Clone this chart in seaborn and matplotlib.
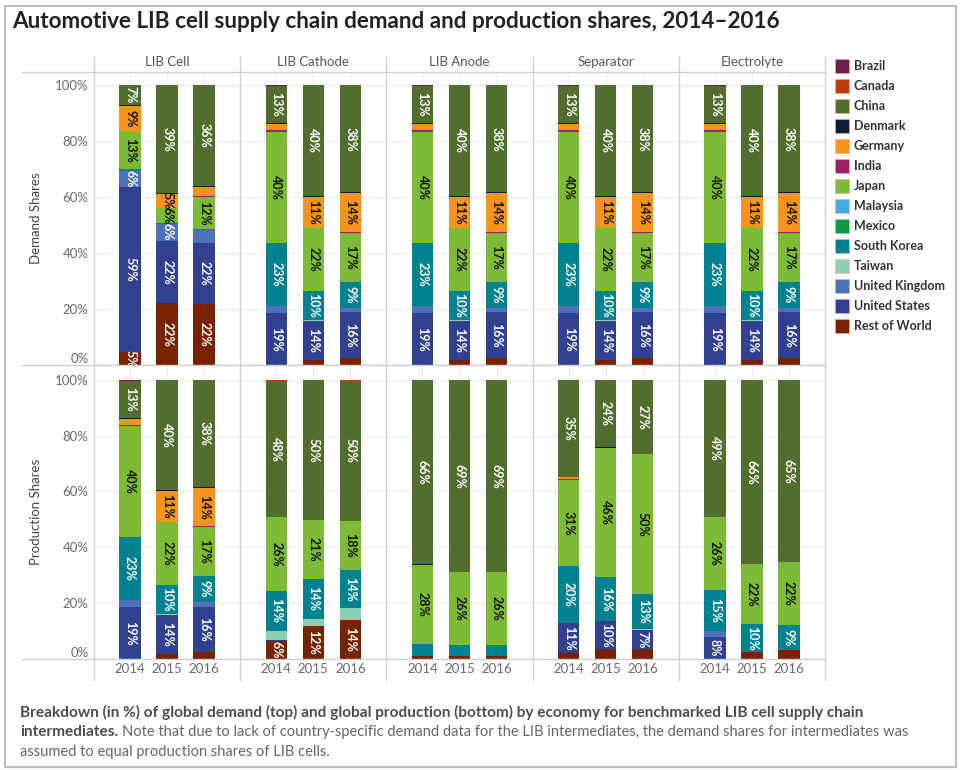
import numpy as np
import pandas as pd
import matplotlib
matplotlib.use("Agg")
import matplotlib.pyplot as plt
from matplotlib.lines import Line2D
from matplotlib.patches import Rectangle
import seaborn as sns

years = ["2014", "2015", "2016"]
components = ["LIB Cell", "LIB Cathode", "LIB Anode", "Separator", "Electrolyte"]
row_titles = ["Demand Shares", "Production Shares"]
countries = ["Brazil", "Canada", "China", "Denmark", "Germany", "India", "Japan",
             "Malaysia", "Mexico", "South Korea", "Taiwan", "United Kingdom",
             "United States", "Rest of World"]
country_colors = ["#6b2150", "#c23a10", "#526e2e", "#0d1f33", "#f7941d", "#9e1f63",
                  "#7dbb37", "#45aae0", "#11934a", "#00818f", "#8dd0b6", "#4e71b8",
                  "#31418f", "#772302"]
dark_text = ["Japan", "Germany"]

# shares in %, values for 2014 / 2015 / 2016
cell_demand = {
    "Rest of World": [4.8, 22.0, 21.6],
    "United States": [58.8, 22.4, 22.1],
    "United Kingdom": [5.6, 6.0, 4.5],
    "South Korea": [0.8, 0.3, 0.3],
    "Japan": [13.2, 5.5, 11.6],
    "India": [0.0, 0.0, 0.4],
    "Germany": [9.3, 4.8, 3.0],
    "Denmark": [0.3, 0.3, 0.3],
    "China": [7.0, 38.7, 36.2],
    "Brazil": [0.2, 0.0, 0.0],
}
cell_production = {
    "Rest of World": [0.0, 1.8, 2.4],
    "United States": [18.5, 14.0, 16.4],
    "United Kingdom": [2.7, 0.0, 1.7],
    "Taiwan": [0.0, 0.3, 0.0],
    "South Korea": [22.5, 10.4, 9.3],
    "Japan": [39.6, 22.4, 17.3],
    "India": [0.5, 0.0, 0.4],
    "Germany": [2.2, 11.2, 13.9],
    "Denmark": [0.3, 0.3, 0.2],
    "China": [13.3, 39.6, 38.2],
    "Brazil": [0.4, 0.0, 0.2],
}
cathode_production = {
    "Rest of World": [6.3, 11.7, 13.8],
    "United States": [0.5, 0.0, 0.0],
    "Taiwan": [3.3, 2.7, 4.3],
    "South Korea": [14.4, 14.4, 13.7],
    "Japan": [26.3, 21.1, 17.6],
    "Denmark": [0.0, 0.0, 0.2],
    "China": [48.4, 49.9, 50.0],
    "Canada": [0.8, 0.0, 0.4],
    "Brazil": [0.0, 0.2, 0.0],
}
anode_production = {
    "Rest of World": [1.2, 1.2, 1.2],
    "South Korea": [4.2, 3.9, 3.9],
    "Japan": [28.4, 26.0, 26.0],
    "Denmark": [0.2, 0.0, 0.0],
    "China": [65.8, 68.7, 68.7],
    "Brazil": [0.2, 0.2, 0.2],
}
separator_production = {
    "Rest of World": [2.0, 3.7, 3.7],
    "United States": [10.9, 9.8, 6.6],
    "Taiwan": [0.0, 0.0, 0.3],
    "South Korea": [20.3, 15.8, 12.6],
    "Japan": [31.0, 46.3, 50.1],
    "India": [0.4, 0.0, 0.0],
    "Germany": [0.5, 0.0, 0.0],
    "Denmark": [0.2, 0.3, 0.0],
    "China": [34.6, 23.9, 26.6],
    "Brazil": [0.1, 0.2, 0.1],
}
electrolyte_production = {
    "Rest of World": [0.0, 2.6, 3.1],
    "United States": [7.8, 0.0, 0.0],
    "United Kingdom": [2.4, 0.0, 0.0],
    "South Korea": [14.6, 9.8, 9.2],
    "Japan": [25.9, 21.6, 22.3],
    "Denmark": [0.2, 0.2, 0.2],
    "China": [48.9, 65.6, 65.0],
    "Brazil": [0.2, 0.2, 0.2],
}

# intermediate demand was assumed equal to LIB cell production
demand_row = [cell_demand, cell_production, cell_production, cell_production, cell_production]
production_row = [cell_production, cathode_production, anode_production,
                  separator_production, electrolyte_production]

W, H = 960, 770
palette = dict(zip(countries, country_colors))
grey_line = "#d0d0d0"


def fx(x):
    return x / W


def fy(y):
    return 1 - y / H


def draw_stack(ax, shares):
    stack = [c for c in countries[::-1] if c in shares]
    base = np.zeros(len(years))
    tops = {}
    for c in stack:
        base = base + np.array(shares[c])
        tops[c] = base.copy()
    # cumulative bars drawn from the top segment downwards
    for c in stack[::-1]:
        df = pd.DataFrame({"year": years, "top": tops[c]})
        sns.barplot(data=df, x="year", y="top", order=years, color=palette[c],
                    saturation=1, width=0.58, errorbar=None, linewidth=0,
                    ax=ax, zorder=2)
    for c in stack:
        for i, v in enumerate(shares[c]):
            if v >= 4.7:
                ax.text(i, tops[c][i] - v / 2, f"{int(v + 0.5)}%", rotation=270,
                        ha="center", va="center", fontsize=9, fontweight="bold",
                        color="#111111" if c in dark_text else "white", zorder=3)


sns.set_theme(style="white")
plt.rcParams["font.family"] = ["Lato", "DejaVu Sans"]

fig = plt.figure(figsize=(W / 100, H / 100), dpi=100)

col_edges = [94, 240.2, 386.4, 532.6, 678.8, 825]
row_edges = [(72, 365, 104.6), (365, 659, 105.3)]

for r, row_data in enumerate([demand_row, production_row]):
    y_top, y_bot, y_max = row_edges[r]
    for j, shares in enumerate(row_data):
        x0, x1 = col_edges[j], col_edges[j + 1]
        ax = fig.add_axes([fx(x0), fy(y_bot), (x1 - x0) / W, (y_bot - y_top) / H])
        draw_stack(ax, shares)
        ax.set_xlim(-0.975, 2.975)
        ax.set_ylim(0, y_max)
        ax.set_yticks([0, 20, 40, 60, 80, 100])
        ax.set_axisbelow(True)
        ax.grid(True, color="#efefef", linewidth=0.9)
        for s in ax.spines.values():
            s.set_visible(False)
        ax.tick_params(length=0)
        ax.set_xlabel("")
        ax.set_ylabel("")
        if j == 0:
            ax.set_yticklabels([f"{v}%" for v in range(0, 101, 20)],
                               fontsize=9.5, color="#6a6a6a")
            ax.get_yticklabels()[0].set_va("bottom")
            ax.tick_params(axis="y", pad=4)
        else:
            ax.set_yticklabels([])
        if r == 1:
            ax.set_xticks(range(len(years)))
            ax.set_xticklabels(years, fontsize=9.5, color="#6a6a6a")
            ax.tick_params(axis="x", pad=3)
        else:
            ax.set_xticklabels([])
        if r == 0:
            fig.text(fx((x0 + x1) / 2), fy(62), components[j], ha="center",
                     va="center", fontsize=9.5, color="#555555")

    fig.text(fx(36), fy((y_top + y_bot) / 2), row_titles[r], rotation=90,
             ha="center", va="center", fontsize=9.5, color="#444444")

# pane separators
for x in col_edges:
    fig.add_artist(Line2D([fx(x), fx(x)], [fy(57), fy(680)], color=grey_line, lw=1))
for y in [72, 365, 659]:
    fig.add_artist(Line2D([fx(22), fx(825)], [fy(y), fy(y)], color=grey_line, lw=1))

# legend
for k, c in enumerate(countries):
    yc = 66 + 20 * k
    fig.add_artist(Rectangle((fx(835), fy(yc + 7)), 14 / W, 14 / H,
                             facecolor=palette[c], edgecolor="#e6b0a0",
                             lw=0.4, transform=fig.transFigure))
    fig.text(fx(854), fy(yc), c, ha="left", va="center", fontsize=9,
             fontweight="bold", color="#333333")

# title and caption
fig.text(fx(12), fy(21), "Automotive LIB cell supply chain demand and production shares, 2014\u20132016",
         ha="left", va="center", fontsize=16.2, fontweight="bold", color="#222222")
fig.text(fx(20), fy(712), "Breakdown (in %) of global demand (top) and global production (bottom) "
         "by economy for benchmarked LIB cell supply chain",
         ha="left", va="center", fontsize=11.1, fontweight="bold", color="#4d4d4d")
t_bold = fig.text(fx(20), fy(732), "intermediates.", ha="left", va="center", fontsize=11.1,
                  fontweight="bold", color="#4d4d4d")
fig.canvas.draw()
bb = t_bold.get_window_extent()
fig.text(bb.x1 / W + 4 / W, fy(732), "Note that due to lack of country-specific demand data for "
         "the LIB intermediates, the demand shares for intermediates was",
         ha="left", va="center", fontsize=10.5, color="#666666")
fig.text(fx(20), fy(752), "assumed to equal production shares of LIB cells.",
         ha="left", va="center", fontsize=10.5, color="#666666")

# outer frame
fig.add_artist(Rectangle((fx(5), fy(767)), 951 / W, 761 / H, facecolor="none",
                         edgecolor="#bdbdbd", lw=1.6, transform=fig.transFigure))

fig.savefig("out.png", dpi=100)
